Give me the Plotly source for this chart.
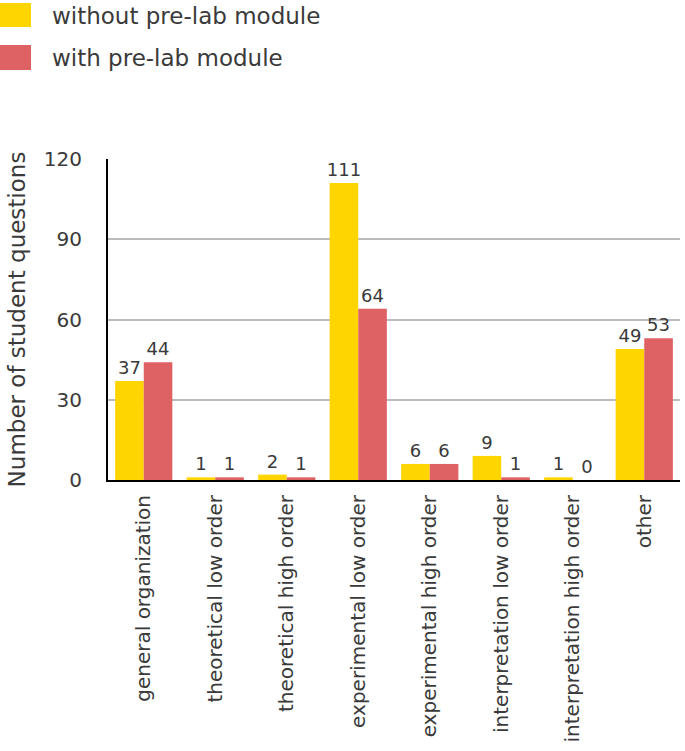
import plotly.graph_objects as go

categories = ["general organization", "theoretical low order", "theoretical high order",
              "experimental low order", "experimental high order", "interpretation low order",
              "interpretation high order", "other"]
without_prelab = [37, 1, 2, 111, 6, 9, 1, 49]
with_prelab = [44, 1, 1, 64, 6, 1, 0, 53]
series_names = ["without pre-lab module", "with pre-lab module"]
y_ticks = [0, 30, 60, 90, 120]

YELLOW = "#FFD500"
RED = "#DE6263"
FONT = "DejaVu Sans, sans-serif"
TXT = "#3A3A3A"

fig = go.Figure()
for name, vals, col in [(series_names[0], without_prelab, YELLOW), (series_names[1], with_prelab, RED)]:
    fig.add_trace(go.Bar(
        x=categories, y=vals, name=name, marker=dict(color=col, line=dict(width=0)),
        text=[str(v) for v in vals], textposition="outside", cliponaxis=False,
        textfont=dict(size=18, color=TXT, family=FONT), showlegend=False,
    ))

W, H = 685, 751
ml, mr, mt, mb = 108, 5, 159, 271
pw, ph = W - ml - mr, H - mt - mb

def px(x):
    return (x - ml) / pw

def py(y):
    return (H - mb - y) / ph

shapes = []
annotations = []
legend_items = [(series_names[0], YELLOW, 3, 27, 16), (series_names[1], RED, 45, 70, 58)]
for name, col, y0, y1, yc in legend_items:
    shapes.append(dict(type="rect", xref="paper", yref="paper", x0=px(0), x1=px(31),
                       y0=py(y1), y1=py(y0), fillcolor=col, line=dict(width=0)))
    annotations.append(dict(xref="paper", yref="paper", x=px(50), y=py(yc), text=name,
                            showarrow=False, xanchor="left", yanchor="middle",
                            font=dict(size=23, color=TXT, family=FONT)))

fig.update_layout(
    width=W, height=H,
    margin=dict(l=ml, r=mr, t=mt, b=mb, autoexpand=False),
    paper_bgcolor="white", plot_bgcolor="white",
    barmode="group", bargap=0.2, bargroupgap=0,
    font=dict(family=FONT, color=TXT),
    shapes=shapes, annotations=annotations,
    showlegend=False,
    uniformtext=dict(mode="show", minsize=18),
)
fig.update_xaxes(
    tickangle=-90, tickfont=dict(size=20, color=TXT, family=FONT),
    showline=True, linecolor="black", linewidth=2, ticks="", showgrid=False,
    ticklabelstandoff=5,
)
fig.update_yaxes(
    range=[0, 120], tickvals=y_ticks, tickfont=dict(size=20, color=TXT, family=FONT),
    showline=True, linecolor="black", linewidth=2, showgrid=True, gridcolor="#BBBBBB", gridwidth=1.5,
    zeroline=False, ticks="", ticklabelstandoff=20,
    title=dict(text="Number of student questions", font=dict(size=23, color=TXT, family=FONT), standoff=12),
)
fig.write_html("out.html", config={"displayModeBar": False},
               post_script="document.body.style.margin='0px';")
